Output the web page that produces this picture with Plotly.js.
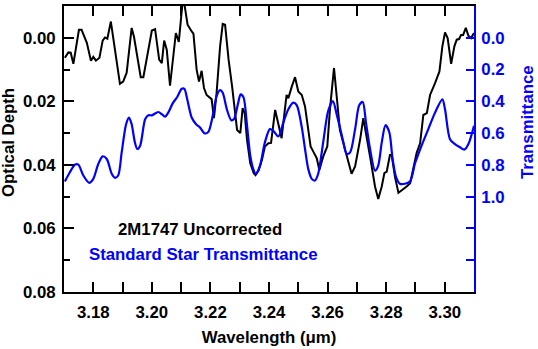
<!DOCTYPE html>
<html>
<head>
<meta charset="utf-8">
<script src="https://cdn.plot.ly/plotly-3.0.1.min.js"></script>
<style>
  html, body { margin: 0; padding: 0; background: white; }
  #chart { width: 538px; height: 349px; }
</style>
</head>
<body>
<div id="chart"></div>
<script>
// 2M1747 uncorrected spectrum (optical depth, left axis)
const wlDepth = [
  3.1703, 3.1715, 3.1723, 3.1732, 3.1751, 3.1760, 3.1778, 3.1792, 3.1800, 3.1809,
  3.1821, 3.1832, 3.1840, 3.1848, 3.1860, 3.1874, 3.1891, 3.1902, 3.1914, 3.1931,
  3.1939, 3.1962, 3.1971, 3.2000, 3.2011, 3.2025, 3.2034, 3.2042, 3.2051, 3.2062,
  3.2082, 3.2092, 3.2105, 3.2111, 3.2122, 3.2136, 3.2142, 3.2153, 3.2161, 3.2170,
  3.2178, 3.2187, 3.2204, 3.2212, 3.2221, 3.2233, 3.2242, 3.2250, 3.2262, 3.2274,
  3.2285, 3.2291, 3.2302, 3.2310, 3.2317, 3.2325, 3.2336, 3.2348, 3.2354, 3.2365,
  3.2376, 3.2386, 3.2398, 3.2407, 3.2421, 3.2428, 3.2443, 3.2460, 3.2466, 3.2478,
  3.2489, 3.2500, 3.2512, 3.2523, 3.2534, 3.2542, 3.2554, 3.2563, 3.2572, 3.2585,
  3.2599, 3.2608, 3.2622, 3.2631, 3.2642, 3.2654, 3.2671, 3.2682, 3.2694, 3.2711,
  3.2722, 3.2734, 3.2747, 3.2762, 3.2773, 3.2785, 3.2794, 3.2802, 3.2813, 3.2819,
  3.2830, 3.2842, 3.2859, 3.2870, 3.2882, 3.2893, 3.2904, 3.2916, 3.2927, 3.2939,
  3.2950, 3.2967, 3.2982, 3.2992, 3.3001, 3.3010, 3.3022, 3.3033, 3.3041, 3.3049,
  3.3056, 3.3063, 3.3072, 3.3081, 3.3090, 3.3100
];
const opticalDepth = [
  0.0063, 0.0046, 0.0047, 0.0082, -0.0025, -0.0025, 0.0016, 0.0072, 0.0060, 0.0072,
  0.0063, 0.0009, -0.0001, 0.0003, -0.0051, 0.0038, 0.0145, 0.0138, 0.0110, -0.0031,
  -0.0003, 0.0124, 0.0124, -0.0023, -0.0027, 0.0069, 0.0080, 0.0009, 0.0038, 0.0151,
  -0.0015, 0.0013, -0.0113, -0.0107, -0.0041, -0.0020, -0.0013, 0.0101, 0.0138, 0.0104,
  0.0158, 0.0180, 0.0193, 0.0253, 0.0174, 0.0027, -0.0044, -0.0041, 0.0069, 0.0153,
  0.0237, 0.0290, 0.0300, 0.0221, 0.0237, 0.0321, 0.0395, 0.0426, 0.0432, 0.0416,
  0.0384, 0.0342, 0.0332, 0.0331, 0.0227, 0.0258, 0.0316, 0.0180, 0.0190, 0.0153,
  0.0124, 0.0169, 0.0180, 0.0216, 0.0300, 0.0342, 0.0363, 0.0379, 0.0416, 0.0374,
  0.0342, 0.0227, 0.0095, 0.0195, 0.0290, 0.0332, 0.0395, 0.0428, 0.0405, 0.0321,
  0.0253, 0.0311, 0.0384, 0.0468, 0.0507, 0.0468, 0.0426, 0.0421, 0.0369, 0.0369,
  0.0437, 0.0488, 0.0477, 0.0468, 0.0458, 0.0405, 0.0363, 0.0332, 0.0243, 0.0237,
  0.0180, 0.0143, 0.0106, 0.0027, -0.0017, 0.0001, 0.0082, 0.0027, 0.0006, 0.0004,
  -0.0009, -0.0009, -0.0031, -0.0006, 0.0001, -0.0015
];

// standard star transmittance (right axis)
const wlStd = [
  3.1703, 3.1720, 3.1738, 3.1749, 3.1766, 3.1786, 3.1800, 3.1817, 3.1832, 3.1846,
  3.1863, 3.1874, 3.1885, 3.1897, 3.1912, 3.1922, 3.1931, 3.1942, 3.1950, 3.1960,
  3.1977, 3.1988, 3.2000, 3.2022, 3.2034, 3.2045, 3.2056, 3.2071, 3.2087, 3.2102,
  3.2111, 3.2121, 3.2136, 3.2151, 3.2164, 3.2181, 3.2193, 3.2210, 3.2221, 3.2233,
  3.2242, 3.2256, 3.2271, 3.2280, 3.2295, 3.2303, 3.2313, 3.2325, 3.2336, 3.2346,
  3.2355, 3.2369, 3.2386, 3.2403, 3.2415, 3.2432, 3.2449, 3.2466, 3.2483, 3.2495,
  3.2512, 3.2523, 3.2534, 3.2546, 3.2557, 3.2568, 3.2585, 3.2602, 3.2618, 3.2631,
  3.2642, 3.2654, 3.2665, 3.2677, 3.2694, 3.2708, 3.2720, 3.2731, 3.2745, 3.2762,
  3.2773, 3.2785, 3.2798, 3.2811, 3.2822, 3.2834, 3.2847, 3.2864, 3.2882, 3.2899,
  3.2921, 3.2944, 3.2967, 3.2992, 3.3001, 3.3018, 3.3035, 3.3052, 3.3067, 3.3081,
  3.3100
];
const transmittance = [
  0.904, 0.846, 0.798, 0.798, 0.867, 0.913, 0.888, 0.794, 0.746, 0.763,
  0.856, 0.881, 0.867, 0.721, 0.544, 0.502, 0.544, 0.658, 0.700, 0.679,
  0.513, 0.488, 0.488, 0.467, 0.481, 0.496, 0.471, 0.413, 0.371, 0.321,
  0.321, 0.388, 0.502, 0.544, 0.564, 0.602, 0.592, 0.471, 0.367, 0.329,
  0.346, 0.450, 0.519, 0.513, 0.408, 0.356, 0.375, 0.554, 0.742, 0.825,
  0.856, 0.806, 0.658, 0.575, 0.586, 0.621, 0.533, 0.450, 0.408, 0.425,
  0.564, 0.700, 0.825, 0.888, 0.898, 0.856, 0.658, 0.461, 0.398, 0.481,
  0.563, 0.658, 0.731, 0.721, 0.575, 0.425, 0.404, 0.533, 0.700, 0.836,
  0.804, 0.658, 0.550, 0.596, 0.763, 0.877, 0.919, 0.919, 0.903, 0.788,
  0.679, 0.575, 0.471, 0.388, 0.450, 0.638, 0.669, 0.689, 0.704, 0.669,
  0.554
];

const tTickVals = [0, 0.2, 0.4, 0.6, 0.8, 1.0, 1.2, 1.4];
const tTickText = ["0.0", "0.2", "0.4", "0.6", "0.8", "1.0", "", ""];

const BLUE = "#0000ff";
const fnt = { family: "Liberation Sans, Arial, sans-serif", size: 16.8, weight: "bold" };

const traces = [
  {
    x: wlDepth,
    y: opticalDepth,
    type: "scatter",
    mode: "lines",
    line: { color: "black", width: 2 },
    yaxis: "y",
  },
  {
    x: wlStd,
    y: transmittance,
    type: "scatter",
    mode: "lines",
    line: { color: BLUE, width: 2.2, shape: "spline", smoothing: 0.8 },
    yaxis: "y2",
  },
];

const layout = {
  width: 538,
  height: 349,
  margin: { l: 64, r: 64, t: 6, b: 57 },
  showlegend: false,
  paper_bgcolor: "white",
  plot_bgcolor: "white",
  font: { family: fnt.family, size: fnt.size, color: "black", weight: "bold" },
  xaxis: {
    range: [3.17, 3.31],
    tick0: 3.18,
    dtick: 0.02,
    tickformat: ".2f",
    ticks: "inside",
    ticklen: 10,
    tickwidth: 2,
    tickcolor: "black",
    ticklabelstandoff: 4,
    minor: { dtick: 0.01, ticks: "inside", ticklen: 6, tickwidth: 2, tickcolor: "black" },
    showline: true,
    linecolor: "black",
    linewidth: 2,
    mirror: "allticks",
    showgrid: false,
    zeroline: false,
    tickfont: fnt,
    title: { text: "Wavelength (μm)", font: fnt, standoff: 10 },
  },
  yaxis: {
    range: [0.08, -0.01],
    tick0: 0,
    dtick: 0.02,
    tickformat: ".2f",
    ticks: "inside",
    ticklen: 10,
    tickwidth: 2,
    tickcolor: "black",
    ticklabelstandoff: 3,
    minor: { dtick: 0.01, ticks: "inside", ticklen: 6, tickwidth: 2, tickcolor: "black" },
    showline: true,
    linecolor: "black",
    linewidth: 2,
    showgrid: false,
    zeroline: false,
    tickfont: fnt,
  },
  yaxis2: {
    overlaying: "y",
    side: "right",
    range: [1.6, -0.2],
    tickvals: tTickVals,
    ticktext: tTickText,
    ticks: "inside",
    ticklen: 8,
    tickwidth: 2,
    tickcolor: BLUE,
    ticklabelstandoff: 2,
    showline: true,
    linecolor: BLUE,
    linewidth: 2,
    showgrid: false,
    zeroline: false,
    tickfont: Object.assign({}, fnt, { color: BLUE }),
  },
  annotations: [
    {
      xref: "paper", yref: "paper", x: 0, y: 0.521, xshift: -55,
      xanchor: "center", yanchor: "middle", textangle: -90,
      text: "Optical Depth", showarrow: false, font: fnt,
    },
    {
      xref: "paper", yref: "paper", x: 1, y: 0.594, xshift: 53,
      xanchor: "center", yanchor: "middle", textangle: -90,
      text: "Transmittance", showarrow: false,
      font: Object.assign({}, fnt, { color: BLUE }),
    },
    {
      xref: "paper", yref: "paper", x: 0.332, y: 0.218,
      xanchor: "center", yanchor: "middle",
      text: "2M1747 Uncorrected", showarrow: false, font: fnt,
    },
    {
      xref: "paper", yref: "paper", x: 0.340, y: 0.131,
      xanchor: "center", yanchor: "middle",
      text: "Standard Star Transmittance", showarrow: false,
      font: Object.assign({}, fnt, { color: BLUE }),
    },
  ],
};

Plotly.newPlot("chart", traces, layout, { displayModeBar: false, staticPlot: true });
</script>
</body>
</html>
